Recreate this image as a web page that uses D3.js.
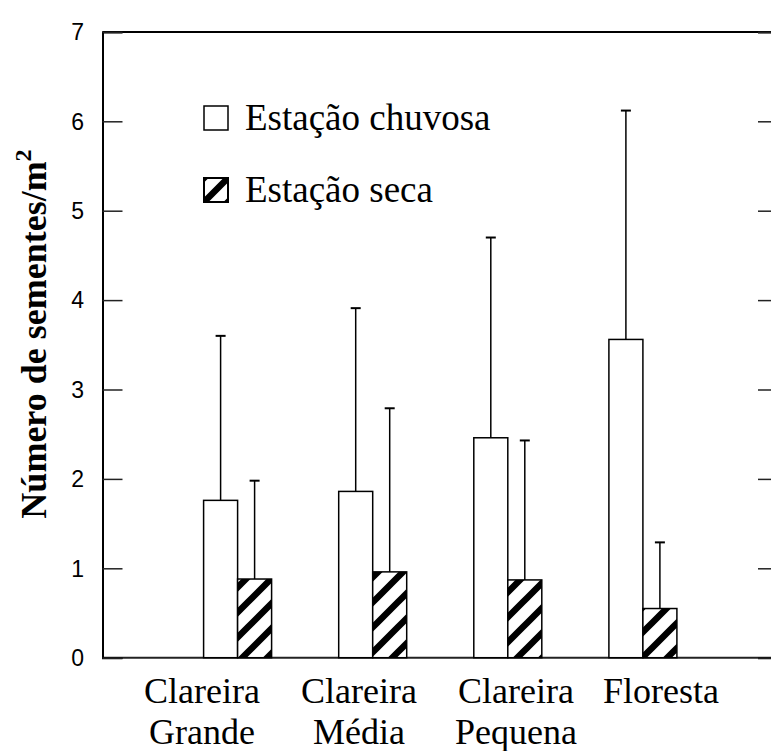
<!DOCTYPE html>
<html>
<head>
<meta charset="utf-8">
<script src="https://cdn.jsdelivr.net/npm/d3@7/dist/d3.min.js"></script>
<style>
  html, body { margin: 0; padding: 0; background: #fff; }
  svg { display: block; }
</style>
</head>
<body>
<div id="chart"></div>
<script>
// categories (two text lines each)
var categories = [
  ["Clareira", "Grande"],
  ["Clareira", "Média"],
  ["Clareira", "Pequena"],
  ["Floresta"]
];
// means and mean + error
var chuvosa = [1.76, 1.86, 2.46, 3.56];
var chuvosaErr = [3.60, 3.91, 4.70, 6.12];
var seca = [0.88, 0.96, 0.87, 0.55];
var secaErr = [1.98, 2.79, 2.43, 1.29];
var yTicks = [0, 1, 2, 3, 4, 5, 6, 7];
var legendLabels = ["Estação chuvosa", "Estação seca"];

var width = 771, height = 751;
var x = d3.scaleLinear().domain([0, 5]).range([102.5, 778]);
var y = d3.scaleLinear().domain([0, 7]).range([657.7, 31.9]);
var labelX = d3.scaleLinear().domain([0, 2, 3]).range([202, 516, 661]);
var barW = 34;
var sq = 24;
var serif = "Liberation Serif, 'Times New Roman', serif";

var svg = d3.select("#chart").append("svg")
    .attr("width", width)
    .attr("height", height);

// hatch pattern for the dry season
var defs = svg.append("defs");
var pat = defs.append("pattern")
    .attr("id", "hatch")
    .attr("patternUnits", "userSpaceOnUse")
    .attr("width", 25).attr("height", 25);
pat.append("rect").attr("width", 25).attr("height", 25).attr("fill", "#fff");
pat.append("path")
    .attr("d", "M-7,7 L7,-7 M0,25 L25,0 M18,32 L32,18")
    .attr("stroke", "#000")
    .attr("stroke-width", 6.5);

defs.append("clipPath").attr("id", "swclip")
  .append("rect").attr("width", sq).attr("height", sq);

// frame: top and bottom lines
svg.append("line")
    .attr("x1", x(0)).attr("x2", width)
    .attr("y1", y(7)).attr("y2", y(7))
    .attr("stroke", "#000").attr("stroke-width", 2);
svg.append("line")
    .attr("x1", x(0)).attr("x2", width)
    .attr("y1", y(0)).attr("y2", y(0))
    .attr("stroke", "#222").attr("stroke-width", 2);

// left axis, ticks inward
var yAxis = d3.axisRight(y).tickValues(yTicks).tickSize(20).tickFormat("");
var gy = svg.append("g")
    .attr("transform", "translate(" + x(0) + ",0)")
    .call(yAxis);
gy.select(".domain").attr("stroke", "#000").attr("stroke-width", 2);
gy.selectAll(".tick line").attr("stroke", "#222").attr("stroke-width", 1.5);

// right axis, ticks inward
var yAxisR = d3.axisLeft(y).tickValues(yTicks).tickSize(20).tickFormat("");
var gyr = svg.append("g")
    .attr("transform", "translate(" + x(5) + ",0)")
    .call(yAxisR);
gyr.select(".domain").attr("stroke", "#000").attr("stroke-width", 2);
gyr.selectAll(".tick line").attr("stroke", "#222").attr("stroke-width", 1.5);

// tick labels
svg.append("g").selectAll("text")
    .data(yTicks)
    .enter().append("text")
    .attr("x", 84)
    .attr("y", function(d) { return y(d); })
    .attr("dy", "0.36em")
    .attr("text-anchor", "end")
    .attr("font-family", "Liberation Sans, Arial, sans-serif")
    .attr("font-size", 23)
    .text(function(d) { return d; });

// bars
var groups = svg.append("g");
groups.selectAll("rect.wet")
    .data(chuvosa)
    .enter().append("rect")
    .attr("class", "wet")
    .attr("x", function(d, i) { return x(i + 1) - barW; })
    .attr("y", function(d) { return y(d); })
    .attr("width", barW)
    .attr("height", function(d) { return y(0) - y(d); })
    .attr("fill", "#fff")
    .attr("stroke", "#000")
    .attr("stroke-width", 1.5);

groups.selectAll("rect.dry")
    .data(seca)
    .enter().append("rect")
    .attr("class", "dry")
    .attr("x", function(d, i) { return x(i + 1); })
    .attr("y", function(d) { return y(d); })
    .attr("width", barW)
    .attr("height", function(d) { return y(0) - y(d); })
    .attr("fill", "url(#hatch)")
    .attr("stroke", "#000")
    .attr("stroke-width", 1.5);

// error bars (upper only)
function errBars(means, tops, off) {
  var g = svg.append("g").attr("stroke", "#000").attr("stroke-width", 1.5);
  means.forEach(function(m, i) {
    var cx = x(i + 1) + off;
    g.append("line")
        .attr("x1", cx).attr("x2", cx)
        .attr("y1", y(m)).attr("y2", y(tops[i]));
    g.append("line")
        .attr("x1", cx - 5).attr("x2", cx + 5)
        .attr("y1", y(tops[i])).attr("y2", y(tops[i]))
        .attr("stroke-width", 2);
  });
}
errBars(chuvosa, chuvosaErr, -barW / 2);
errBars(seca, secaErr, barW / 2);

// category labels
var cat = svg.append("g")
    .attr("font-family", serif)
    .attr("font-size", 36)
    .attr("text-anchor", "middle");
categories.forEach(function(lines, i) {
  lines.forEach(function(t, j) {
    cat.append("text")
        .attr("x", labelX(i))
        .attr("y", 703 + j * 41)
        .text(t);
  });
});

// legend
var leg = svg.append("g").attr("transform", "translate(204,106)");
leg.append("rect")
    .attr("x", 0).attr("y", 0).attr("width", sq).attr("height", sq)
    .attr("fill", "#fff").attr("stroke", "#000").attr("stroke-width", 1.5);
var sw = leg.append("g").attr("transform", "translate(0,72)");
sw.append("rect")
    .attr("x", 0).attr("y", 0).attr("width", sq).attr("height", sq)
    .attr("fill", "#fff");
sw.append("path")
    .attr("clip-path", "url(#swclip)")
    .attr("d", "M0,24 L24,0 M-4,4 L4,-4 M20,28 L28,20")
    .attr("stroke", "#000").attr("stroke-width", 6.5);
sw.append("rect")
    .attr("x", 0).attr("y", 0).attr("width", sq).attr("height", sq)
    .attr("fill", "none").attr("stroke", "#000").attr("stroke-width", 2);
leg.selectAll("text.lab")
    .data(legendLabels)
    .enter().append("text")
    .attr("class", "lab")
    .attr("x", 41)
    .attr("y", function(d, i) { return 24 + i * 72; })
    .attr("font-family", serif)
    .attr("font-size", 37)
    .text(function(d) { return d; });

// y axis title
var yt = svg.append("text")
    .attr("transform", "translate(46,334) rotate(-90)")
    .attr("text-anchor", "middle")
    .attr("font-family", serif)
    .attr("font-weight", "bold")
    .attr("font-size", 36);
yt.append("tspan").text("Número de sementes/m");
yt.append("tspan").attr("dy", -15).attr("font-size", 24).text("2");
</script>
</body>
</html>
